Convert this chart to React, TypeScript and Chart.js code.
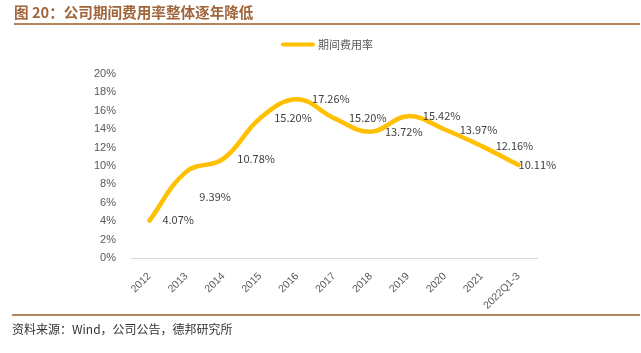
import React, { useEffect, useRef } from "react";
import { Chart, registerables } from "chart.js";

Chart.register(...registerables);

const categories = ["2012", "2013", "2014", "2015", "2016", "2017", "2018", "2019", "2020", "2021", "2022Q1-3"];
const expenseRate = [4.07, 9.39, 10.78, 15.2, 17.26, 15.2, 13.72, 15.42, 13.97, 12.16, 10.11];
const yTicks = [0, 2, 4, 6, 8, 10, 12, 14, 16, 18, 20];
const seriesName = "期间费用率";
const titleText = "图 20：公司期间费用率整体逐年降低";
const sourceText = "资料来源：Wind，公司公告，德邦研究所";

const labelOffsets: [number, number][] = [
  [13, -1], [13, 25], [14, 0], [14, 0], [15, 0], [15, 0], [14, 0], [15, 0], [15, 0], [14, 0], [0, 0],
];

const LINE_COLOR = "#FFC000";

const decorPlugin = {
  id: "decor",
  afterDraw(chart: any) {
    const ctx = chart.ctx as CanvasRenderingContext2D;
    ctx.save();
    ctx.fillStyle = "#A0653A";
    ctx.font = "bold 14.6px 'Noto Sans CJK SC', sans-serif";
    ctx.textBaseline = "middle";
    ctx.textAlign = "left";
    ctx.fillText(titleText, 14, 12);
    ctx.fillStyle = "#B5865C";
    ctx.fillRect(14, 23, 626, 2);
    ctx.fillRect(12, 314, 628, 2);
    ctx.fillStyle = "#333333";
    ctx.font = "12px 'Noto Sans CJK SC', sans-serif";
    ctx.fillText(sourceText, 12, 329);
    ctx.strokeStyle = LINE_COLOR;
    ctx.lineWidth = 4;
    ctx.lineCap = "round";
    ctx.beginPath();
    ctx.moveTo(283, 44.5);
    ctx.lineTo(313, 44.5);
    ctx.stroke();
    ctx.fillStyle = "#595959";
    ctx.font = "11px 'Noto Sans CJK SC', sans-serif";
    ctx.fillText(seriesName, 318, 45);
    const meta = chart.getDatasetMeta(0);
    ctx.fillStyle = "#404040";
    ctx.font = "11px 'Noto Sans CJK SC', sans-serif";
    ctx.textAlign = "left";
    ctx.textBaseline = "middle";
    meta.data.forEach((pt: any, i: number) => {
      const [dx, dy] = labelOffsets[i] || [13, 0];
      ctx.fillText(expenseRate[i].toFixed(2) + "%", pt.x + dx, pt.y + dy);
    });
    ctx.restore();
  },
};

export default function App() {
  const ref = useRef<HTMLCanvasElement>(null);
  useEffect(() => {
    if (!ref.current) return;
    const chart = new Chart(ref.current, {
      type: "line",
      data: {
        labels: categories,
        datasets: [
          {
            label: seriesName,
            data: expenseRate,
            borderColor: LINE_COLOR,
            backgroundColor: LINE_COLOR,
            borderWidth: 4.5,
            pointRadius: 0,
            tension: 0.4,
            cubicInterpolationMode: "default",
            borderCapStyle: "round",
          },
        ],
      },
      options: {
        responsive: false,
        animation: false,
        devicePixelRatio: 1,
        layout: { padding: { top: 74, right: 104, left: 0, bottom: 0 } },
        plugins: {
          legend: { display: false },
          tooltip: { enabled: false },
          title: { display: false },
        },
        scales: {
          x: {
            offset: true,
            grid: { display: false },
            border: { display: true, color: "#D9D9D9", width: 1 },
            ticks: {
              color: "#595959",
              font: { family: "'Liberation Sans', Arial, sans-serif", size: 10.5 },
              minRotation: 45,
              maxRotation: 45,
              autoSkip: false,
              padding: 4,
            },
            afterFit(scale: any) {
              scale.height = 95;
            },
          },
          y: {
            min: 0,
            max: 20,
            grid: { display: false },
            border: { display: false },
            afterBuildTicks(scale: any) {
              scale.ticks = yTicks.map((v) => ({ value: v }));
            },
            ticks: {
              color: "#595959",
              font: { family: "'Liberation Sans', Arial, sans-serif", size: 11 },
              padding: 7,
              callback: (v: any) => v + "%",
            },
            afterFit(scale: any) {
              scale.width = 131;
            },
          },
        },
      },
      plugins: [decorPlugin],
    });
    return () => chart.destroy();
  }, []);
  return (
    <div style={{ position: "absolute", left: 0, top: 0, width: 641, height: 353, background: "#fff" }}>
      <canvas ref={ref} width={641} height={353} style={{ display: "block" }} />
    </div>
  );
}
